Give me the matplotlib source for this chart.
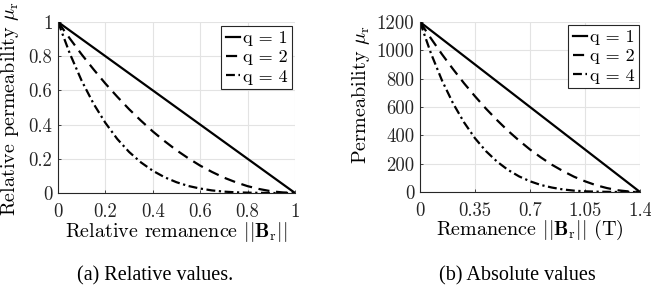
import matplotlib
matplotlib.use("Agg")
import matplotlib.pyplot as plt

plt.rcParams["mathtext.fontset"] = "cm"
plt.rcParams["font.family"] = "serif"
plt.rcParams["font.serif"] = ["cmr10", "DejaVu Serif"]
plt.rcParams["axes.formatter.use_mathtext"] = True

# relative remanence samples and curves
br_rel = [0.0, 0.05, 0.1, 0.15, 0.2, 0.25, 0.3, 0.35, 0.4, 0.45, 0.5,
          0.55, 0.6, 0.65, 0.7, 0.75, 0.8, 0.85, 0.9, 0.95, 1.0]
mu_q1 = [1.0, 0.95, 0.9, 0.85, 0.8, 0.75, 0.7, 0.65, 0.6, 0.55, 0.5,
         0.45, 0.4, 0.35, 0.3, 0.25, 0.2, 0.15, 0.1, 0.05, 0.0]
mu_q2 = [1.0, 0.903, 0.81, 0.723, 0.64, 0.563, 0.49, 0.423, 0.36, 0.303, 0.25,
         0.203, 0.16, 0.123, 0.09, 0.063, 0.04, 0.023, 0.01, 0.003, 0.0]
mu_q4 = [1.0, 0.815, 0.656, 0.522, 0.41, 0.316, 0.24, 0.179, 0.13, 0.092, 0.063,
         0.041, 0.026, 0.015, 0.008, 0.004, 0.002, 0.001, 0.0, 0.0, 0.0]

br_max = 1.4     # T
mu_max = 1200

labels = ["q = 1", "q = 2", "q = 4"]
styles = ["-", (0, (5, 3)), (0, (4, 1.6, 1, 1.6))]

xt_rel = [0, 0.2, 0.4, 0.6, 0.8, 1]
yt_rel = [0, 0.2, 0.4, 0.6, 0.8, 1]
xt_abs = [0, 0.35, 0.7, 1.05, 1.4]
yt_abs = [0, 200, 400, 600, 800, 1000, 1200]

fontsize = 13.5

fig = plt.figure(figsize=(6.51, 2.88), dpi=100)
ax1 = fig.add_axes([58 / 651, 1 - 193 / 288, 237 / 651, 171 / 288])
ax2 = fig.add_axes([420 / 651, 1 - 192 / 288, 220 / 651, 170 / 288])


def style_axes(ax, xticks, yticks):
    ax.set_xlim(xticks[0], xticks[-1])
    ax.set_ylim(yticks[0], yticks[-1])
    ax.set_xticks(xticks)
    ax.set_xticklabels([f"{v:g}" for v in xticks])
    ax.set_yticks(yticks)
    ax.set_yticklabels([f"{v:g}" for v in yticks])
    ax.tick_params(labelsize=fontsize, direction="in", length=2.5, width=0.6,
                   colors="#262626")
    ax.tick_params(axis="x", pad=7)
    ax.tick_params(axis="y", pad=4)
    ax.grid(True, color="#e3e3e3", linewidth=0.8)
    ax.set_axisbelow(True)
    for s in ["top", "right"]:
        ax.spines[s].set_visible(False)
    for s in ["left", "bottom"]:
        ax.spines[s].set_color("#262626")
        ax.spines[s].set_linewidth(0.8)


rel_curves = [mu_q1, mu_q2, mu_q4]
for mu, label, ls in zip(rel_curves, labels, styles):
    ax1.plot(br_rel, mu, color="black", linewidth=1.6, linestyle=ls, label=label)
    ax2.plot([b * br_max for b in br_rel], [m * mu_max for m in mu],
             color="black", linewidth=1.6, linestyle=ls, label=label)

style_axes(ax1, xt_rel, yt_rel)
style_axes(ax2, xt_abs, yt_abs)

ax1.set_xlabel(r"Relative remanence $||\mathbf{B}_\mathrm{r}||$", fontsize=14.5)
ax1.set_ylabel(r"Relative permeability $\mu_\mathrm{r}$", fontsize=14.5)
ax2.set_xlabel(r"Remanence $||\mathbf{B}_\mathrm{r}||$ (T)", fontsize=14.5)
ax2.set_ylabel(r"Permeability $\mu_\mathrm{r}$", fontsize=14.5)
ax1.xaxis.set_label_coords(0.5, -0.155)
ax2.xaxis.set_label_coords(0.5, -0.155)
ax1.yaxis.set_label_coords(-0.155, 0.497)
ax2.yaxis.set_label_coords(-0.22, 0.57)

for ax, xr, yt in [(ax1, 292, 26), (ax2, 639, 25)]:
    leg = ax.legend(loc="upper right", bbox_to_anchor=(xr / 651, 1 - yt / 288),
                    bbox_transform=fig.transFigure, fontsize=13,
                    handlelength=0.8, handletextpad=0.15, borderpad=0.25,
                    labelspacing=0.2, borderaxespad=0, fancybox=False,
                    framealpha=1)
    leg.get_frame().set_edgecolor("#262626")
    leg.get_frame().set_linewidth(0.8)

fig.text(155 / 651, 1 - 276 / 288, "(a) Relative values.", ha="center", va="center",
         fontsize=14.5, family="Liberation Serif")
fig.text(517 / 651, 1 - 276 / 288, "(b) Absolute values", ha="center", va="center",
         fontsize=14.5, family="Liberation Serif")

fig.savefig("out.png", dpi=100)
